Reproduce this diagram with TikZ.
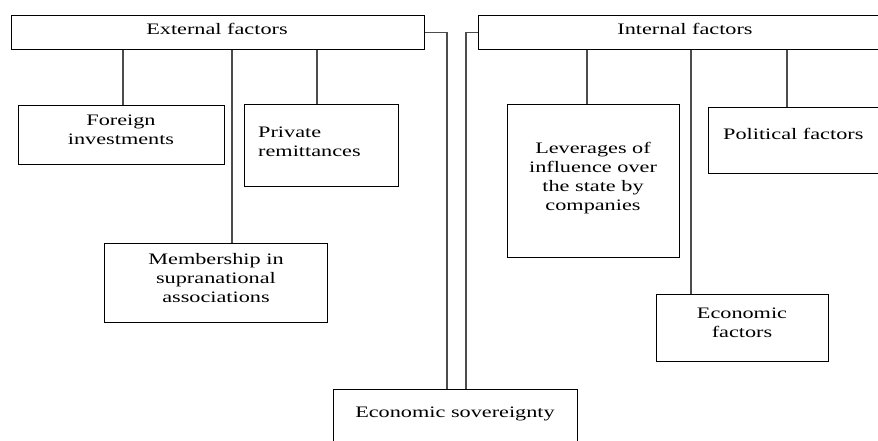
\documentclass[tikz,border=0pt]{standalone}
\usepackage{fontspec}
\setmainfont{Liberation Serif}
\usepackage{graphicx}
\usetikzlibrary{calc}

\newcommand{\ctxt}[1]{\scalebox{1.39}[1]{\begin{tabular}[t]{@{}c@{}}#1\end{tabular}}}
\newcommand{\ltxt}[1]{\scalebox{1.39}[1]{\begin{tabular}[t]{@{}l@{}}#1\end{tabular}}}

\tikzset{
  fbox/.style={draw, line width=1pt, anchor=north west, inner sep=0},
  txt/.style={inner sep=0, font=\fontsize{16}{19}\selectfont},
  link/.style={draw=black!70, line width=1.2pt}
}

\begin{document}
\begin{tikzpicture}[x=1pt, y=-1pt]
\useasboundingbox (0,0) rectangle (878,440);
\clip (0,0) rectangle (878,440);
% boxes
\node[fbox, minimum width=413pt, minimum height=34pt] (ext) at (11,15) {};
\node[fbox, minimum width=414pt, minimum height=34pt] (int) at (478,15) {};
\node[fbox, minimum width=206pt, minimum height=59pt] (fi) at (18,105) {};
\node[fbox, minimum width=154pt, minimum height=82pt] (pr) at (244,104) {};
\node[fbox, minimum width=223pt, minimum height=79pt] (mem) at (104,243) {};
\node[fbox, minimum width=172pt, minimum height=153pt] (lev) at (507,104) {};
\node[fbox, minimum width=184pt, minimum height=66pt] (pol) at (708,107) {};
\node[fbox, minimum width=172pt, minimum height=67pt] (eco) at (656,294) {};
\node[fbox, minimum width=244pt, minimum height=70pt] (sov) at (333,389) {};
% texts
\node[txt, anchor=base] (ext-t) at (217,34) {\ctxt{External factors}};
\node[txt, anchor=base] (int-t) at (685,34) {\ctxt{Internal factors}};
\node[txt, anchor=base] (fi-t) at (121,125) {\ctxt{Foreign\\investments}};
\node[txt, anchor=base west] (pr-t) at (258,137) {\ltxt{Private\\remittances}};
\node[txt, anchor=base] (mem-t) at (216,264) {\ctxt{Membership in\\supranational\\associations}};
\node[txt, anchor=base] (lev-t) at (593,153) {\ctxt{Leverages of\\influence over\\the state by\\companies}};
\node[txt, anchor=base west] (pol-t) at (723,139) {\ltxt{Political factors}};
\node[txt, anchor=base] (eco-t) at (742,318) {\ctxt{Economic\\factors}};
\node[txt, anchor=base] (sov-t) at (455,417) {\ctxt{Economic sovereignty}};
% connectors
\draw[link] (ext.south -| 123,0) -- (fi.north -| 123,0);
\draw[link] (ext.south -| 232,0) -- (mem.north -| 232,0);
\draw[link] (ext.south -| 317,0) -- (pr.north -| 317,0);
\draw[link] (int.south -| 587,0) -- (lev.north -| 587,0);
\draw[link] (int.south -| 691,0) -- (eco.north -| 691,0);
\draw[link] (int.south -| 787,0) -- (pol.north -| 787,0);
\draw[link] (ext.east) -| (sov.north -| 447,0);
\draw[link] (int.west) -| (sov.north -| 466,0);
\end{tikzpicture}
\end{document}
